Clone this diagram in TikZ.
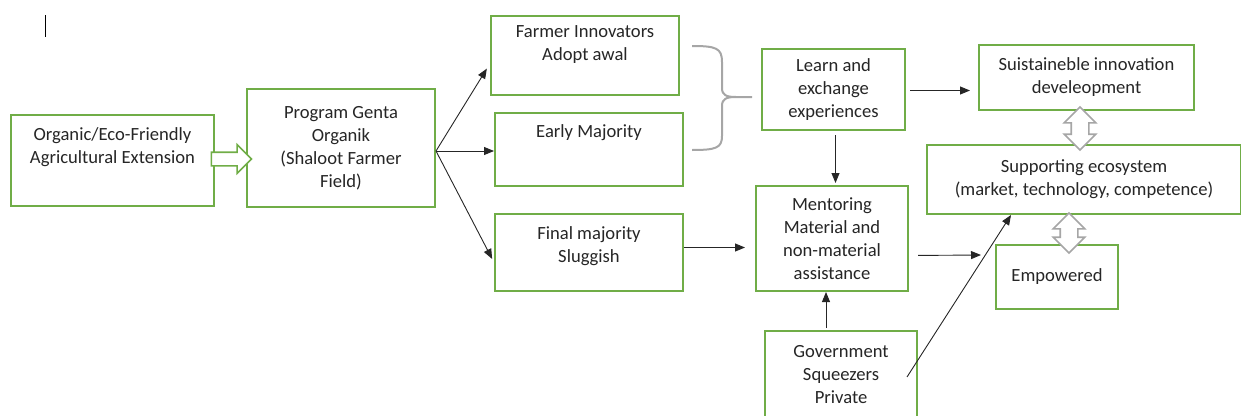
\documentclass[tikz,border=0pt]{standalone}
\usepackage{fontspec}
\setmainfont{Carlito}
\usetikzlibrary{positioning, arrows.meta, shapes.arrows}

\definecolor{boxgreen}{RGB}{112,173,71}
\definecolor{inkgray}{RGB}{38,38,38}

\begin{document}
\begin{tikzpicture}[
    x=1pt, y=-1pt,
    font=\fontsize{18.6}{23}\selectfont,
    box/.style={
        rectangle,
        draw=boxgreen,
        line width=2pt,
        fill=white,
        text=inkgray,
        align=center,
        anchor=north west,
        inner sep=4pt
    },
    lift/.style={text depth=#1},
    arrow/.style={-{Triangle[length=10pt,width=8pt]}, line width=0.9pt, draw=inkgray},
    blockarrow/.style={draw=#1, line width=1.6pt, fill=white, inner sep=0pt}
]
\useasboundingbox (0,0) rectangle (1241,415);

% --- cursor mark ---
\draw[line width=0.9pt] (45,15) -- (45,37);

% --- Boxes ---
\node[box, minimum width=203pt, minimum height=91pt, lift=30pt] (org) at (10,114) {Organic/Eco-Friendly\\Agricultural Extension};
\node[box, minimum width=188pt, minimum height=118pt] (prog) at (246,88) {Program Genta\\Organik\\(Shaloot Farmer\\Field)};
\node[box, minimum width=188pt, minimum height=79pt, lift=24pt] (innov) at (490,15) {Farmer Innovators\\Adopt awal};
\node[box, minimum width=188pt, minimum height=73pt, lift=36pt] (early) at (494,112) {Early Majority};
\node[box, minimum width=188pt, minimum height=77pt, lift=16pt] (final) at (494,213) {Final majority\\Sluggish};
\node[box, minimum width=143pt, minimum height=81pt] (learn) at (761,48) {Learn and\\exchange\\experiences};
\node[box, minimum width=215pt, minimum height=65pt] (sustain) at (978,44) {Suistaineble innovation\\develeopment};
\node[box, minimum width=314pt, minimum height=69pt] (support) at (926,144) {Supporting ecosystem\\(market, technology, competence)};
\node[box, minimum width=152pt, minimum height=105pt] (mentor) at (755,185) {Mentoring\\Material and\\non-material\\assistance};
\node[box, minimum width=122pt, minimum height=64pt] (empower) at (995,244) {Empowered};
\node[box, minimum width=152pt, minimum height=88pt] (gov) at (764,330) {Government\\Squeezers\\Private};

% --- Block arrows ---
\node[blockarrow=boxgreen, single arrow, text height=6pt, text depth=6pt,
      single arrow head extend=7.5pt, minimum height=40pt] (push) at (228,159) {};
\node[blockarrow=gray!70, double arrow, rotate=90, text height=8pt, text depth=8pt,
      double arrow head extend=7pt, minimum height=43pt] (linkup) at (1080,128.5) {};
\node[blockarrow=gray!70, double arrow, rotate=90, text height=8pt, text depth=8pt,
      double arrow head extend=7pt, minimum height=40pt] (linkdown) at (1069,233) {};

% --- Brace ---
\draw[gray!70, line width=2pt]
    (692,46) .. controls (716,46) and (722,48) .. (722,62) -- (722,88)
    .. controls (722,95) and (726,97) .. (736,97) -- (752,97)
    (736,97) .. controls (726,97) and (722,99) .. (722,106) -- (722,136)
    .. controls (722,148) and (716,150) .. (692,150);

% --- Arrows ---
\coordinate (fork) at ([yshift=-3pt]prog.east);
\coordinate (empin) at (981,255);
\draw[arrow, shorten >=6pt] (fork) -- ([yshift=-8pt]innov.west);
\draw[arrow] (fork) -- (fork -| early.west);
\draw[arrow, shorten >=4pt] (fork) -- ([yshift=-10pt]final.west);
\draw[arrow, shorten <=4pt, shorten >=8pt] ([yshift=-1pt]learn.east) -- ([yshift=-1pt]learn.east -| sustain.west);
\draw[arrow, shorten <=4pt, shorten >=2pt] ([xshift=2pt]learn.south) -- ([xshift=2pt]learn.south |- mentor.north);
\draw[arrow, shorten >=10pt] ([yshift=5pt]final.east) -- ([yshift=5pt]final.east -| mentor.west);
\draw[arrow, shorten <=9pt] ([yshift=-17pt]mentor.east) -- (empin);
\draw[arrow, shorten <=2pt] ([xshift=-15pt]gov.north) -- ([xshift=-15pt]gov.north |- mentor.south);
\draw[arrow] ([xshift=-11pt, yshift=-2pt]gov.east) -- ([xshift=-73pt]support.south);

\end{tikzpicture}
\end{document}
